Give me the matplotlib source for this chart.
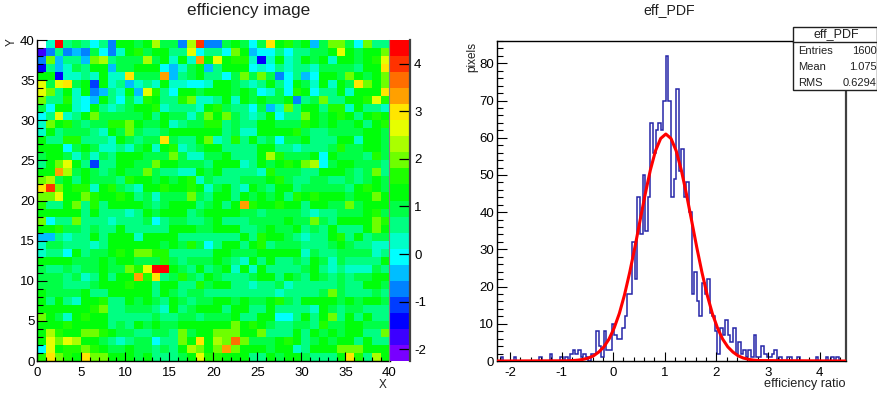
import numpy as np
import matplotlib
matplotlib.use('Agg')
import matplotlib.pyplot as plt
from matplotlib.colors import ListedColormap, BoundaryNorm
from matplotlib.ticker import MultipleLocator
from matplotlib.patches import Rectangle

plt.rcParams['font.family'] = ['Liberation Sans', 'DejaVu Sans']
plt.rcParams['axes.unicode_minus'] = False

# ---------------------------------------------
# efficiency image, colour band per cell
# top row first (y = 39 down to y = 0), x = 0..39
# '.' is an empty cell
# ---------------------------------------------
image_rows = [
 ".7j898684aa9ad994di4" + "49a969fab9a59cc96c88",
 "1484549647ab9aa88e68" + "86ca566868899aea9aac",
 "4c5885cd8999d9a7a7ga" + "eabb727a78a9a7aa9abe",
 "285798aa599aaa6579a5" + "8aaa6768788799998aaf",
 "aa27787a77f999g589a8" + "869c9c946856aa9ca9ac",
 "e9ef9a3a785787a77667" + "aa9878a86a97a7a9fcac",
 "ec8a7a4587a5eb86aa9a" + "aa9a96796ba688a7aaaf",
 "c88b765a8697ba88bc77" + "8a7a9a99a489c88aabeb",
 "96aa76a8789aab78887a" + "b9886957c8aa8bb7a887",
 "68e78ac99999a8a9979c" + "ac9878a688ca9aba8aba",
 "7cab9899bbca99a7899b" + "b8988aa999ba9a99a8ab",
 "7a899987a9c9889aaaaa" + "a8977aaaab9889999aa9",
 "a88bb8887a9899f988ac" + "78b8a89699a888aa7aa9",
 "aaa69a977879a7ab789a" + "a8888aa8878889b99aa9",
 "9aa979798aaa999c9779" + "9a888adb999a6a9998b9",
 "8acea8388aa99caa9998" + "aaa78a9abacd69aa9998",
 "aagd9a989a99c98877a9" + "a88887b99988aaa989c8",
 "cd9a8a9998baa9a9ab79" + "888999ab9889988989a9",
 "ficabb7ab987aabaaba7" + "9a87a98aa8999998aba9",
 "cceaacbaaba897999c98" + "aa8a9a9a8babaaa9aaca",
 "b88ac8b8aaaa989aaa89" + "a8agbaabaa8aa99c9aaa",
 "aaaaa8a88878a9aaa89a" + "aaa99899998788999ab9",
 "c688c888788896899889" + "a8889999a99c98aaaacb",
 "aab998988a88888aaa99" + "aaa889a99a898a888aca",
 "558788a8aaa7aaaa8888" + "888a8baa98788ab8a899",
 "79988878aaaaaa9a9b96" + "8aa8ab89998889a98877",
 "7886a899abaccbb88888" + "aa999aaaaa7988999978",
 "aaaa999a9aa999b98999" + "a987a8a8898a9798888a",
 "9889899a99cbejja98a8" + "9a7a7a88889a87877798",
 "9998978a8aagbf89b98a" + "98889aa8a98a989899aa",
 "9998889aaabaa8aa88b9" + "aa887889788888988aa9",
 "a9999a88aaaaa8a98998" + "8888888788889c988898",
 "a8a87aab88a9a98a9899" + "aa9a99ab98aaaa9a9aa9",
 "aaaaaabc8899987a89aa" + "a8aa88a88887a9899888",
 "ca97abaa888889889989" + "99a88aa668a8ac8a8a88",
 "aaabaaaa898a9a99aaaa" + "aacaba988998b99aa999",
 "adbaaccba9988998c9aa" + "cccaac888a8a9a9aa88c",
 "aecedaa987899688cafa" + "dchc999aba89a9aa8a88",
 "6eabbcba99a99898adca" + "cgcaaa9aa78aaacccaaa",
 "bfcbafccaaa9a8889aeb" + "baaa88a9aa9888afb8da",
]

z_min = -2.25
z_max = 4.5
palette = ["#7800ff", "#3c00ff", "#0000ff", "#003cff", "#0082ff",
           "#00beff", "#00ffff", "#00ffc8", "#00ff82", "#00ff46",
           "#00ff0a", "#1eff00", "#6eff00", "#aaff00", "#e6ff00",
           "#ffe600", "#ffa000", "#ff6e00", "#ff3200", "#ff0000"]

# ---------------------------------------------
# eff_PDF histogram, bin contents (bin width .05)
# ---------------------------------------------
hist_start = -2.23
hist_width = 0.05
hist_counts = [
 0, 1, 0, 0, 0, 0, 1, 0, 0, 0, 0, 0, 0, 0, 0,
 0, 1, 0, 0, 0, 2, 0, 0, 0, 1, 0, 1, 0, 2, 3,
 2, 3, 1, 2, 1, 0, 2, 2, 8, 4, 1, 8, 3, 3, 10,
 7, 6, 6, 9, 12, 18, 18, 32, 22, 44, 34, 50, 35, 44, 64,
 56, 62, 64, 62, 70, 82, 70, 44, 49, 73, 51, 57, 44, 48, 40,
 18, 24, 16, 12, 21, 18, 22, 13, 12, 8, 2, 9, 7, 11, 7,
 5, 9, 2, 5, 2, 3, 1, 3, 1, 7, 1, 1, 4, 2, 1,
 1, 2, 3, 0, 1, 0, 0, 1, 1, 0, 0, 1, 0, 0, 0,
 0, 0, 0, 1, 0, 0, 0, 1, 0, 1, 0, 1, 0, 0, 0,
]

# red fit curve
fit_x = [-2.25, -0.88, -0.78, -0.68, -0.58, -0.48, -0.38, -0.28, -0.18, -0.08,
         0.02, 0.12, 0.22, 0.32, 0.42, 0.52, 0.62, 0.72, 0.82, 0.92,
         1.02, 1.12, 1.22, 1.32, 1.42, 1.52, 1.62, 1.72, 1.82, 1.92,
         2.02, 2.12, 2.22, 2.32, 2.42, 2.52, 2.62, 2.72, 2.82, 4.5]
fit_y = [0, 0.06, 0.12, 0.24, 0.45, 0.8, 1.4, 2.4, 3.8, 5.9,
         8.9, 12.8, 17.8, 23.8, 30.5, 37.7, 44.8, 51.3, 56.5, 59.8,
         61, 59.8, 56.5, 51.3, 44.8, 37.7, 30.5, 23.8, 17.8, 12.8,
         8.9, 5.9, 3.8, 2.4, 1.4, 0.8, 0.45, 0.24, 0.12, 0]

stat_names = ["Entries", "Mean", "RMS"]
stat_values = ["1600", "1.075", "0.6294"]

W, H = 878, 396


def box(x0, y0, x1, y1):
    return [x0 / W, 1 - y1 / H, (x1 - x0) / W, (y1 - y0) / H]


fig = plt.figure(figsize=(8.78, 3.96), dpi=100)

# -----
# image
# -----
values = []
for row in image_rows:
    values.append([np.nan if c == '.' else z_min + (int(c, 36) + 0.5) * (z_max - z_min) / len(palette) for c in row])
values = np.array(values)[::-1]

levels = np.linspace(z_min, z_max, len(palette) + 1)
cmap = ListedColormap(palette)
norm = BoundaryNorm(levels, cmap.N)

ax = fig.add_axes(box(37, 40, 389.5, 361))
ax.pcolormesh(np.arange(41), np.arange(41), values, cmap=cmap, norm=norm)
ax.set_xlim(0, 40)
ax.set_ylim(0, 40)
ax.xaxis.set_major_locator(MultipleLocator(5))
ax.xaxis.set_minor_locator(MultipleLocator(1))
ax.yaxis.set_major_locator(MultipleLocator(5))
ax.yaxis.set_minor_locator(MultipleLocator(1))
ax.tick_params(axis='x', which='major', direction='in', length=6.2, width=0.8, labelsize=9.5, pad=4.5)
ax.tick_params(axis='x', which='minor', direction='in', length=3, width=0.8)
ax.tick_params(axis='y', which='major', direction='in', length=7.5, width=0.8, labelsize=9.5, pad=1.5)
ax.tick_params(axis='y', which='minor', direction='in', length=4.2, width=0.8)
for side in ['top', 'right']:
    ax.spines[side].set_visible(False)
ax.spines['left'].set_linewidth(1.0)
ax.spines['bottom'].set_linewidth(1.0)

# palette bar
cax = fig.add_axes(box(389.5, 40, 410, 361))
cax.pcolormesh([0, 1], levels, np.array(levels[:-1] + 0.01).reshape(-1, 1), cmap=cmap, norm=norm)
cax.set_xlim(0, 1)
cax.set_ylim(z_min, z_max)
cax.set_xticks([])
cax.yaxis.tick_right()
cax.yaxis.set_major_locator(MultipleLocator(1))
cax.tick_params(axis='y', direction='in', length=8, width=0.9, labelsize=9.5, pad=3)
for side in ['top', 'bottom']:
    cax.spines[side].set_visible(False)
cax.spines['left'].set_color('#808080')
cax.spines['left'].set_linewidth(0.8)
cax.spines['right'].set_color('#404040')
cax.spines['right'].set_linewidth(1.6)

# ---------
# histogram
# ---------
edges = hist_start + hist_width * np.arange(len(hist_counts) + 1)

ax2 = fig.add_axes(box(497, 41, 845.5, 361))
ax2.stairs(hist_counts, edges, color='#000099', linewidth=1.1, alpha=0.85)
ax2.plot(fit_x, fit_y, color='#ff0000', linewidth=2.2, zorder=4)
ax2.set_xlim(-2.25, 4.5)
ax2.set_ylim(0, 86)
ax2.xaxis.set_major_locator(MultipleLocator(1))
ax2.xaxis.set_minor_locator(MultipleLocator(0.2))
ax2.yaxis.set_major_locator(MultipleLocator(10))
ax2.yaxis.set_minor_locator(MultipleLocator(2))
ax2.tick_params(axis='x', which='major', direction='in', length=6.2, width=0.8, labelsize=9.5, pad=4.5)
ax2.tick_params(axis='x', which='minor', direction='in', length=3, width=0.8)
ax2.tick_params(axis='y', which='major', direction='in', length=7.5, width=0.8, labelsize=9.5, pad=2)
ax2.tick_params(axis='y', which='minor', direction='in', length=4.2, width=0.8)
ax2.spines['top'].set_linewidth(1.0)
ax2.spines['left'].set_linewidth(1.0)
ax2.spines['bottom'].set_linewidth(1.0)
ax2.spines['right'].set_color('#404040')
ax2.spines['right'].set_linewidth(1.6)

# -----------------------
# titles, labels, stat box
# -----------------------
over = fig.add_axes([0, 0, 1, 1], zorder=10)
over.set_xlim(0, W)
over.set_ylim(H, 0)
over.axis('off')

over.text(248.5, 11, "efficiency image", ha='center', va='center', fontsize=12.3, color='#202020')
over.text(669, 10, "eff_PDF", ha='center', va='center', fontsize=10.2, color='#202020')
over.text(383, 385, "X", ha='center', va='center', fontsize=8.5, color='#202020')
over.text(12, 42, "Y", ha='center', va='center', rotation=90, fontsize=8.5, color='#202020')
over.text(472, 57, "pixels", ha='center', va='center', rotation=90, fontsize=8.5, color='#202020')
over.text(846, 384, "efficiency ratio", ha='right', va='center', fontsize=9.2, color='#202020')

over.add_patch(Rectangle((793, 27), 84.5, 63, facecolor='white', edgecolor='#202020', linewidth=1.0))
over.plot([793, 878], [42, 42], color='#202020', linewidth=1.0)
over.text(836, 34.5, "eff_PDF", ha='center', va='center', fontsize=9, color='#202020')
for i in range(3):
    over.text(798, 51 + 16 * i, stat_names[i], ha='left', va='center', fontsize=8, color='#202020')
    over.text(877, 51 + 16 * i, stat_values[i], ha='right', va='center', fontsize=8, color='#202020')

fig.savefig('out.png', dpi=100)
